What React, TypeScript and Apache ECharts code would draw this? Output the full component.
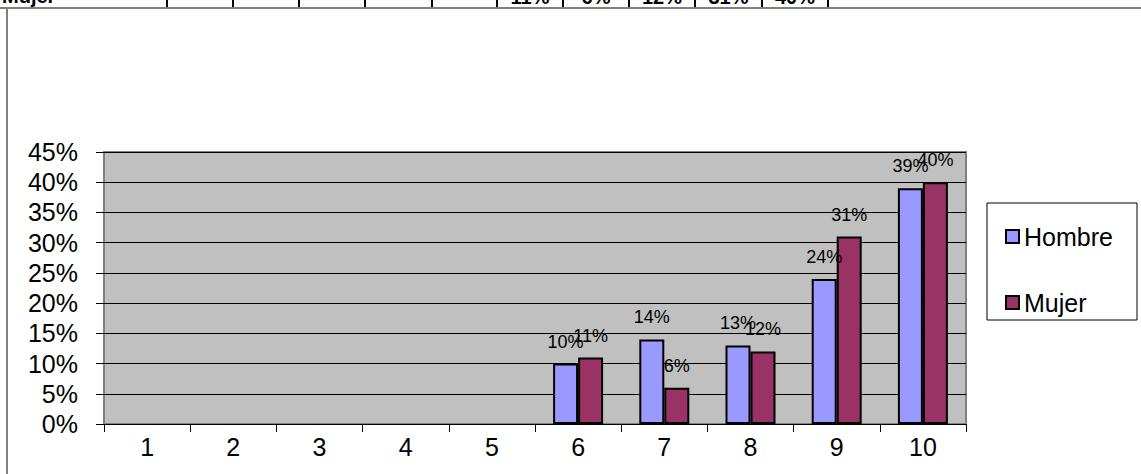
import React, { useEffect, useRef } from "react";
import * as echarts from "echarts";

const categories = ["1", "2", "3", "4", "5", "6", "7", "8", "9", "10"];
const hombre: (number | null)[] = [null, null, null, null, null, 10, 14, 13, 24, 39];
const mujer: (number | null)[] = [null, null, null, null, null, 11, 6, 12, 31, 40];
const yMax = 45;
const yInterval = 5;
const tableRowLabel = "Mujer";
const tableCellEdges = [167, 233, 299, 365, 432, 497, 563, 629, 695, 762, 828];

const FONT = "'Liberation Sans', Arial, sans-serif";

export default function App() {
  const ref = useRef<HTMLDivElement>(null);
  useEffect(() => {
    if (!ref.current) return;
    const chart = echarts.init(ref.current, undefined, { renderer: "svg" });

    const graphics: any[] = [];
    // cut-off table row at the very top
    graphics.push({
      type: "text",
      x: 2,
      y: -4,
      style: { text: tableRowLabel, font: `bold 20px ${FONT}`, fill: "#000", align: "left", verticalAlign: "middle" },
    });
    tableCellEdges.forEach((x) => {
      graphics.push({
        type: "line",
        shape: { x1: x, y1: 0, x2: x, y2: 8 },
        style: { stroke: "#000", lineWidth: 2 },
      });
    });
    mujer.forEach((v, i) => {
      if (v == null) return;
      const cx = (tableCellEdges[i] + tableCellEdges[i + 1]) / 2;
      graphics.push({
        type: "text",
        x: cx,
        y: -3,
        style: { text: v + "%", font: `bold 20px ${FONT}`, fill: "#000", align: "center", verticalAlign: "middle" },
      });
    });
    // chart frame
    graphics.push({ type: "line", shape: { x1: 0, y1: 8, x2: 1141, y2: 8 }, style: { stroke: "#808080", lineWidth: 2 } });
    graphics.push({ type: "line", shape: { x1: 7, y1: 8, x2: 7, y2: 474 }, style: { stroke: "#808080", lineWidth: 2 } });
    // legend box
    graphics.push({
      type: "rect",
      shape: { x: 987, y: 203, width: 150, height: 117 },
      style: { fill: "#fff", stroke: "#000", lineWidth: 1 },
      z: -1,
    });

    chart.setOption({
      animation: false,
      graphic: graphics,
      grid: {
        left: 104,
        right: 175,
        top: 152,
        bottom: 50,
        show: true,
        backgroundColor: "#C0C0C0",
        borderColor: "#808080",
        borderWidth: 2,
      },
      legend: {
        orient: "vertical",
        left: 1005,
        top: 224,
        padding: 0,
        itemGap: 41,
        itemWidth: 13,
        itemHeight: 13,
        icon: "rect",
        itemStyle: { borderColor: "#000", borderWidth: 2 },
        textStyle: { fontFamily: FONT, fontSize: 25, color: "#000" },
        data: ["Hombre", "Mujer"],
      },
      xAxis: {
        type: "category",
        data: categories,
        boundaryGap: true,
        axisLine: { show: true, lineStyle: { color: "#000", width: 1 } },
        axisTick: { show: true, inside: false, length: 8, lineStyle: { color: "#000" } },
        axisLabel: { fontFamily: FONT, fontSize: 25, color: "#000", margin: 10 },
        splitLine: { show: false },
      },
      yAxis: {
        type: "value",
        min: 0,
        max: yMax,
        interval: yInterval,
        axisLine: { show: false },
        axisTick: { show: true, inside: false, length: 8, lineStyle: { color: "#000" } },
        axisLabel: { fontFamily: FONT, fontSize: 25, color: "#000", margin: 26, formatter: "{value}%" },
        splitLine: { show: true, lineStyle: { color: "#000", width: 1 } },
      },
      series: [
        {
          name: "Hombre",
          type: "bar",
          data: hombre,
          barGap: "0%",
          barCategoryGap: "42%",
          itemStyle: { color: "#9999FF", borderColor: "#000", borderWidth: 2 },
          label: { show: true, position: "top", distance: 13, formatter: "{c}%", fontFamily: FONT, fontSize: 18, color: "#000" },
        },
        {
          name: "Mujer",
          type: "bar",
          data: mujer,
          barGap: "0%",
          barCategoryGap: "42%",
          itemStyle: { color: "#993366", borderColor: "#000", borderWidth: 2 },
          label: { show: true, position: "top", distance: 13, formatter: "{c}%", fontFamily: FONT, fontSize: 18, color: "#000" },
        },
      ],
    });
    return () => chart.dispose();
  }, []);
  return <div ref={ref} style={{ position: "absolute", left: 0, top: 0, width: 1141, height: 474, background: "#fff" }} />;
}
